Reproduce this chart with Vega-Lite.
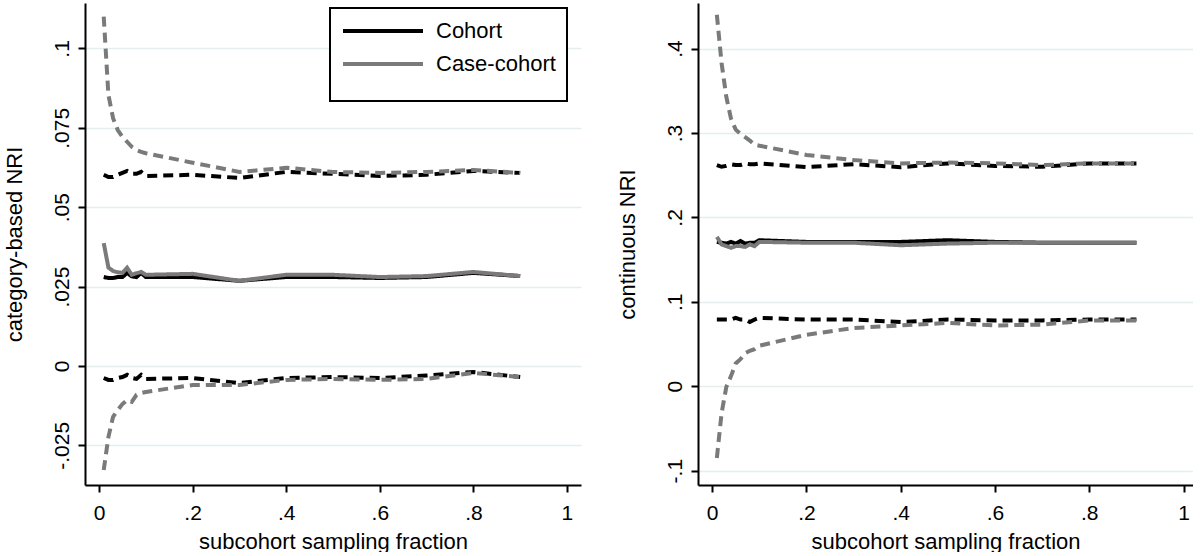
{
  "$schema": "https://vega.github.io/schema/vega-lite/v6.json",
  "padding": {"left": 2, "top": 3, "right": 0, "bottom": 0},
  "bounds": "flush",
  "spacing": 117,
  "datasets": {
    "d": [
      {"p": "cat", "s": "Cohort", "x": 0.01, "est": 0.0280, "lo": -0.0038, "hi": 0.0602},
      {"p": "cat", "s": "Cohort", "x": 0.02, "est": 0.0277, "lo": -0.0044, "hi": 0.0595},
      {"p": "cat", "s": "Cohort", "x": 0.03, "est": 0.0277, "lo": -0.0044, "hi": 0.0595},
      {"p": "cat", "s": "Cohort", "x": 0.04, "est": 0.0280, "lo": -0.0038, "hi": 0.0602},
      {"p": "cat", "s": "Cohort", "x": 0.05, "est": 0.0280, "lo": -0.0035, "hi": 0.0608},
      {"p": "cat", "s": "Cohort", "x": 0.06, "est": 0.0293, "lo": -0.0028, "hi": 0.0614},
      {"p": "cat", "s": "Cohort", "x": 0.07, "est": 0.0282, "lo": -0.0038, "hi": 0.0605},
      {"p": "cat", "s": "Cohort", "x": 0.08, "est": 0.0280, "lo": -0.0041, "hi": 0.0605},
      {"p": "cat", "s": "Cohort", "x": 0.09, "est": 0.0293, "lo": -0.0028, "hi": 0.0611},
      {"p": "cat", "s": "Cohort", "x": 0.1, "est": 0.0280, "lo": -0.0041, "hi": 0.0598},
      {"p": "cat", "s": "Cohort", "x": 0.2, "est": 0.0280, "lo": -0.0038, "hi": 0.0602},
      {"p": "cat", "s": "Cohort", "x": 0.3, "est": 0.0268, "lo": -0.0054, "hi": 0.0592},
      {"p": "cat", "s": "Cohort", "x": 0.4, "est": 0.0280, "lo": -0.0038, "hi": 0.0611},
      {"p": "cat", "s": "Cohort", "x": 0.5, "est": 0.0280, "lo": -0.0035, "hi": 0.0605},
      {"p": "cat", "s": "Cohort", "x": 0.6, "est": 0.0277, "lo": -0.0038, "hi": 0.0598},
      {"p": "cat", "s": "Cohort", "x": 0.7, "est": 0.0280, "lo": -0.0030, "hi": 0.0602},
      {"p": "cat", "s": "Cohort", "x": 0.8, "est": 0.0293, "lo": -0.0019, "hi": 0.0614},
      {"p": "cat", "s": "Cohort", "x": 0.9, "est": 0.0283, "lo": -0.0035, "hi": 0.0608},
      {"p": "cat", "s": "Case-cohort", "x": 0.01, "est": 0.0387, "lo": -0.0328, "hi": 0.1100},
      {"p": "cat", "s": "Case-cohort", "x": 0.02, "est": 0.0310, "lo": -0.0224, "hi": 0.0854},
      {"p": "cat", "s": "Case-cohort", "x": 0.03, "est": 0.0299, "lo": -0.0160, "hi": 0.0780},
      {"p": "cat", "s": "Case-cohort", "x": 0.04, "est": 0.0295, "lo": -0.0139, "hi": 0.0743},
      {"p": "cat", "s": "Case-cohort", "x": 0.05, "est": 0.0293, "lo": -0.0120, "hi": 0.0721},
      {"p": "cat", "s": "Case-cohort", "x": 0.06, "est": 0.0309, "lo": -0.0107, "hi": 0.0706},
      {"p": "cat", "s": "Case-cohort", "x": 0.07, "est": 0.0287, "lo": -0.0113, "hi": 0.0690},
      {"p": "cat", "s": "Case-cohort", "x": 0.08, "est": 0.0292, "lo": -0.0091, "hi": 0.0680},
      {"p": "cat", "s": "Case-cohort", "x": 0.09, "est": 0.0296, "lo": -0.0085, "hi": 0.0674},
      {"p": "cat", "s": "Case-cohort", "x": 0.1, "est": 0.0287, "lo": -0.0082, "hi": 0.0670},
      {"p": "cat", "s": "Case-cohort", "x": 0.2, "est": 0.0290, "lo": -0.0060, "hi": 0.0640},
      {"p": "cat", "s": "Case-cohort", "x": 0.3, "est": 0.0268, "lo": -0.0060, "hi": 0.0611},
      {"p": "cat", "s": "Case-cohort", "x": 0.4, "est": 0.0287, "lo": -0.0044, "hi": 0.0624},
      {"p": "cat", "s": "Case-cohort", "x": 0.5, "est": 0.0287, "lo": -0.0041, "hi": 0.0611},
      {"p": "cat", "s": "Case-cohort", "x": 0.6, "est": 0.0280, "lo": -0.0044, "hi": 0.0608},
      {"p": "cat", "s": "Case-cohort", "x": 0.7, "est": 0.0283, "lo": -0.0041, "hi": 0.0611},
      {"p": "cat", "s": "Case-cohort", "x": 0.8, "est": 0.0296, "lo": -0.0022, "hi": 0.0617},
      {"p": "cat", "s": "Case-cohort", "x": 0.9, "est": 0.0283, "lo": -0.0035, "hi": 0.0608},
      {"p": "cont", "s": "Cohort", "x": 0.01, "est": 0.171, "lo": 0.079, "hi": 0.262},
      {"p": "cont", "s": "Cohort", "x": 0.02, "est": 0.170, "lo": 0.079, "hi": 0.260},
      {"p": "cont", "s": "Cohort", "x": 0.03, "est": 0.169, "lo": 0.079, "hi": 0.261},
      {"p": "cont", "s": "Cohort", "x": 0.04, "est": 0.171, "lo": 0.079, "hi": 0.263},
      {"p": "cont", "s": "Cohort", "x": 0.05, "est": 0.169, "lo": 0.081, "hi": 0.262},
      {"p": "cont", "s": "Cohort", "x": 0.06, "est": 0.172, "lo": 0.079, "hi": 0.262},
      {"p": "cont", "s": "Cohort", "x": 0.07, "est": 0.169, "lo": 0.079, "hi": 0.264},
      {"p": "cont", "s": "Cohort", "x": 0.08, "est": 0.170, "lo": 0.076, "hi": 0.263},
      {"p": "cont", "s": "Cohort", "x": 0.09, "est": 0.170, "lo": 0.079, "hi": 0.263},
      {"p": "cont", "s": "Cohort", "x": 0.1, "est": 0.173, "lo": 0.081, "hi": 0.264},
      {"p": "cont", "s": "Cohort", "x": 0.2, "est": 0.171, "lo": 0.079, "hi": 0.2595},
      {"p": "cont", "s": "Cohort", "x": 0.3, "est": 0.171, "lo": 0.079, "hi": 0.263},
      {"p": "cont", "s": "Cohort", "x": 0.4, "est": 0.171, "lo": 0.076, "hi": 0.2595},
      {"p": "cont", "s": "Cohort", "x": 0.5, "est": 0.173, "lo": 0.079, "hi": 0.264},
      {"p": "cont", "s": "Cohort", "x": 0.6, "est": 0.171, "lo": 0.078, "hi": 0.261},
      {"p": "cont", "s": "Cohort", "x": 0.7, "est": 0.170, "lo": 0.078, "hi": 0.260},
      {"p": "cont", "s": "Cohort", "x": 0.8, "est": 0.170, "lo": 0.079, "hi": 0.264},
      {"p": "cont", "s": "Cohort", "x": 0.9, "est": 0.170, "lo": 0.079, "hi": 0.264},
      {"p": "cont", "s": "Case-cohort", "x": 0.01, "est": 0.177, "lo": -0.085, "hi": 0.440},
      {"p": "cont", "s": "Case-cohort", "x": 0.02, "est": 0.168, "lo": -0.032, "hi": 0.383},
      {"p": "cont", "s": "Case-cohort", "x": 0.03, "est": 0.166, "lo": -0.001, "hi": 0.343},
      {"p": "cont", "s": "Case-cohort", "x": 0.04, "est": 0.164, "lo": 0.012, "hi": 0.317},
      {"p": "cont", "s": "Case-cohort", "x": 0.05, "est": 0.166, "lo": 0.027, "hi": 0.304},
      {"p": "cont", "s": "Case-cohort", "x": 0.06, "est": 0.166, "lo": 0.032, "hi": 0.299},
      {"p": "cont", "s": "Case-cohort", "x": 0.07, "est": 0.165, "lo": 0.039, "hi": 0.295},
      {"p": "cont", "s": "Case-cohort", "x": 0.08, "est": 0.168, "lo": 0.042, "hi": 0.291},
      {"p": "cont", "s": "Case-cohort", "x": 0.09, "est": 0.166, "lo": 0.044, "hi": 0.286},
      {"p": "cont", "s": "Case-cohort", "x": 0.1, "est": 0.171, "lo": 0.048, "hi": 0.285},
      {"p": "cont", "s": "Case-cohort", "x": 0.2, "est": 0.170, "lo": 0.061, "hi": 0.274},
      {"p": "cont", "s": "Case-cohort", "x": 0.3, "est": 0.170, "lo": 0.069, "hi": 0.268},
      {"p": "cont", "s": "Case-cohort", "x": 0.4, "est": 0.167, "lo": 0.072, "hi": 0.264},
      {"p": "cont", "s": "Case-cohort", "x": 0.5, "est": 0.169, "lo": 0.075, "hi": 0.265},
      {"p": "cont", "s": "Case-cohort", "x": 0.6, "est": 0.170, "lo": 0.072, "hi": 0.264},
      {"p": "cont", "s": "Case-cohort", "x": 0.7, "est": 0.170, "lo": 0.073, "hi": 0.262},
      {"p": "cont", "s": "Case-cohort", "x": 0.8, "est": 0.170, "lo": 0.078, "hi": 0.264},
      {"p": "cont", "s": "Case-cohort", "x": 0.9, "est": 0.170, "lo": 0.078, "hi": 0.264}
    ]
  },
  "data": {"name": "d"},
  "transform": [{"fold": ["est", "lo", "hi"], "as": ["k", "v"]}],
  "hconcat": [
    {
      "width": 496,
      "height": 482,
      "transform": [{"filter": "datum.p === 'cat'"}],
      "encoding": {
        "x": {"field": "x", "type": "quantitative",
          "scale": {"domain": [-0.03, 1.03], "nice": false, "zero": false},
          "axis": {"values": [0, 0.2, 0.4, 0.6, 0.8, 1], "title": "subcohort sampling fraction", "grid": false,
            "labelExpr": "replace(toString(datum.value), '0.', '.')"}},
        "y": {"field": "v", "type": "quantitative",
          "scale": {"domain": [-0.0375, 0.1143], "nice": false, "zero": false},
          "axis": {"values": [-0.025, 0, 0.025, 0.05, 0.075, 0.1], "title": "category-based NRI", "labelAngle": 270,
            "labelExpr": "replace(toString(datum.value), '0.', '.')"}},
        "color": {"field": "s", "type": "nominal",
          "scale": {"domain": ["Cohort", "Case-cohort"], "range": ["#000000", "#7a7a7a"]},
          "legend": {"orient": "none", "legendX": 245, "legendY": 5, "title": " ", "titleOrient": "bottom"}},
        "strokeDash": {"field": "k", "type": "nominal",
          "scale": {"domain": ["est", "lo", "hi"], "range": [[1, 0], [10, 6], [10, 6]]}, "legend": null}
      },
      "layer": [
        {"transform": [{"filter": "datum.s === 'Cohort'"}], "mark": {"type": "line", "strokeWidth": 4}},
        {"transform": [{"filter": "datum.s === 'Case-cohort'"}], "mark": {"type": "line", "strokeWidth": 4}}
      ]
    },
    {
      "width": 495,
      "height": 482,
      "transform": [{"filter": "datum.p === 'cont'"}],
      "encoding": {
        "x": {"field": "x", "type": "quantitative",
          "scale": {"domain": [-0.03, 1.02], "nice": false, "zero": false},
          "axis": {"values": [0, 0.2, 0.4, 0.6, 0.8, 1], "title": "subcohort sampling fraction", "grid": false,
            "labelExpr": "replace(toString(datum.value), '0.', '.')"}},
        "y": {"field": "v", "type": "quantitative",
          "scale": {"domain": [-0.117, 0.454], "nice": false, "zero": false},
          "axis": {"values": [-0.1, 0, 0.1, 0.2, 0.3, 0.4], "title": "continuous NRI", "labelAngle": 270,
            "labelExpr": "replace(toString(datum.value), '0.', '.')"}},
        "color": {"field": "s", "type": "nominal",
          "scale": {"domain": ["Cohort", "Case-cohort"], "range": ["#000000", "#7a7a7a"]},
          "legend": {"orient": "none", "legendX": 245, "legendY": 5, "title": " ", "titleOrient": "bottom"}},
        "strokeDash": {"field": "k", "type": "nominal",
          "scale": {"domain": ["est", "lo", "hi"], "range": [[1, 0], [10, 6], [10, 6]]}, "legend": null}
      },
      "layer": [
        {"transform": [{"filter": "datum.s === 'Cohort'"}], "mark": {"type": "line", "strokeWidth": 4}},
        {"transform": [{"filter": "datum.s === 'Case-cohort'"}], "mark": {"type": "line", "strokeWidth": 4}}
      ]
    }
  ],
  "resolve": {"scale": {"y": "independent", "x": "independent"}},
  "config": {
    "font": "Liberation Sans",
    "view": {"stroke": null},
    "axis": {
      "domainColor": "#000000", "domainWidth": 2, "tickColor": "#000000", "tickWidth": 2, "tickSize": 7,
      "labelFont": "Liberation Sans", "labelFontSize": 21, "labelColor": "#000000",
      "titleFont": "Liberation Sans", "titleFontSize": 22, "titleFontWeight": "normal", "titleColor": "#000000",
      "gridColor": "#e4eeef", "gridWidth": 1.5
    },
    "axisX": {"labelPadding": 10, "titlePadding": 8},
    "axisY": {"labelPadding": 6, "titlePadding": 25},
    "legend": {
      "symbolType": "M-1,0H7", "symbolSize": 400, "symbolStrokeWidth": 4, "labelFontSize": 22,
      "labelColor": "#000000", "labelFont": "Liberation Sans", "labelOffset": 71, "rowPadding": 10,
      "padding": 11, "strokeColor": "#000000", "strokeWidth": 2, "fillColor": "#ffffff",
      "titleFontSize": 12, "titlePadding": 4
    }
  }
}
